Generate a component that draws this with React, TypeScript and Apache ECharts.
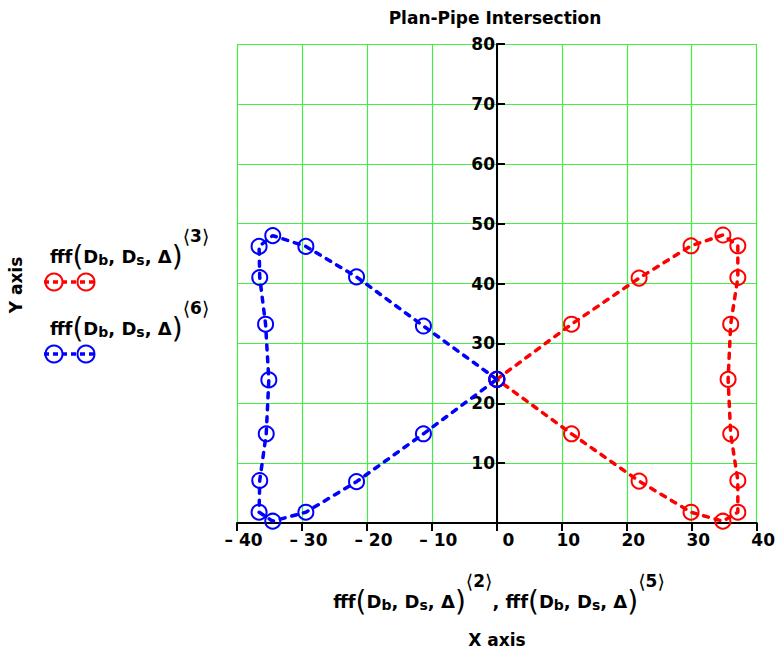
import React, { useEffect, useRef } from "react";
import * as echarts from "echarts";

const FONT = "'DejaVu Sans', sans-serif";

const titleText = "Plan-Pipe Intersection";
const xAxisTitle = "X axis";
const yAxisTitle = "Y axis";

const xTicks = [-40, -30, -20, -10, 0, 10, 20, 30, 40];

// Series fff(Db, Ds, Δ)<2> vs <3> (red)
const redX = [0, 11.5, 21.9, 29.9, 34.8, 37.1, 37.1, 36.0, 35.6, 36.0, 37.1, 37.1, 34.8, 29.9, 21.9, 11.5, 0];
const redY = [24, 33.2, 40.9, 46.3, 48.1, 46.3, 41.0, 33.2, 24.0, 14.9, 7.1, 1.8, 0.3, 1.8, 7.0, 14.9, 24];
// Series fff(Db, Ds, Δ)<5> vs <6> (blue)
const blueX = [0, -11.3, -21.6, -29.4, -34.5, -36.6, -36.5, -35.6, -35.1, -35.5, -36.5, -36.6, -34.5, -29.4, -21.6, -11.3, 0];
const blueY = [24, 32.9, 41.1, 46.2, 48.0, 46.2, 41.0, 33.2, 23.9, 14.9, 7.1, 1.8, 0.3, 1.8, 6.9, 14.9, 24];

const RED = "#ff0000";
const BLUE = "#0000ff";
const GRID_GREEN = "#44ee44";

const rich = {
  f: { fontFamily: FONT, fontWeight: "bold", fontSize: 18, color: "#000" },
  p: { fontFamily: FONT, fontWeight: "normal", fontSize: 28, color: "#000" },
  s: { fontFamily: FONT, fontWeight: "bold", fontSize: 14, color: "#000", padding: [7, 0, 0, 0] },
  a: { fontFamily: FONT, fontWeight: "normal", fontSize: 19, color: "#000", padding: [0, 0, 40, 0] },
  n: { fontFamily: FONT, fontWeight: "bold", fontSize: 17, color: "#000", padding: [0, 0, 40, 0] },
};

const fffText = (idx: string) =>
  `{f|fff}{p|(}{f|D}{s|b}{f|, D}{s|s}{f|, Δ}{p|)}{a|⟨}{n|${idx}}{a|⟩}`;

function legendItem(y: number, color: string, idx: string) {
  const ly = y + 26;
  return [
    {
      type: "text",
      x: 50,
      y,
      style: { text: fffText(idx), rich, align: "left", verticalAlign: "middle" },
    },
    {
      type: "line",
      shape: { x1: 44, y1: ly, x2: 96, y2: ly },
      style: { stroke: color, lineWidth: 3.5, lineDash: [5, 4] },
    },
    { type: "circle", shape: { cx: 54, cy: ly, r: 8.5 }, style: { fill: "none", stroke: color, lineWidth: 2 } },
    { type: "circle", shape: { cx: 86, cy: ly, r: 8.5 }, style: { fill: "none", stroke: color, lineWidth: 2 } },
  ];
}

function makeSeries(name: string, xs: number[], ys: number[], color: string) {
  return {
    name,
    type: "line",
    data: xs.map((x, i) => [x, ys[i]]),
    symbol: "circle",
    symbolSize: 15,
    showAllSymbol: true,
    itemStyle: { color: "rgba(0,0,0,0)", borderColor: color, borderWidth: 2 },
    lineStyle: { color, width: 3.5, type: [5, 7], cap: "round" },
    emphasis: { disabled: true },
  };
}

export default function App() {
  const ref = useRef<HTMLDivElement>(null);
  useEffect(() => {
    if (!ref.current) return;
    const chart = echarts.init(ref.current, null, { renderer: "svg" });
    const labelStyle = { fontFamily: FONT, fontWeight: "bold", fontSize: 17, color: "#000" };
    chart.setOption({
      animation: false,
      backgroundColor: "#fff",
      grid: { left: 237, right: 21, top: 44, bottom: 133, containLabel: false },
      xAxis: {
        type: "value",
        min: xTicks[0],
        max: xTicks[xTicks.length - 1],
        interval: 10,
        axisLine: { onZero: false, lineStyle: { color: "#000", width: 2 } },
        axisTick: { show: true, length: 8, lineStyle: { color: "#000", width: 2 } },
        axisLabel: {
          ...labelStyle,
          margin: 8,
          padding: [0, 0, 0, 13],
          formatter: (v: number) => (v < 0 ? `– ${-v}` : v === 0 ? "{z|0}" : `${v}`),
          rich: { z: { ...labelStyle, padding: [0, 0, 0, 10] } },
        },
        splitLine: { show: true, lineStyle: { color: GRID_GREEN, width: 1.2 } },
      },
      yAxis: {
        type: "value",
        min: 0,
        max: 80,
        interval: 10,
        offset: -260,
        axisLine: { onZero: false, lineStyle: { color: "#000", width: 2 } },
        axisTick: { show: true, inside: true, length: 8, lineStyle: { color: "#000", width: 2 } },
        axisLabel: { ...labelStyle, margin: 2, showMinLabel: false, padding: [6, 0, 0, 0] },
        splitLine: { show: true, lineStyle: { color: GRID_GREEN, width: 1.2 } },
      },
      series: [
        makeSeries("fff<3>", redX, redY, RED),
        makeSeries("fff<6>", blueX, blueY, BLUE),
      ],
      graphic: [
        {
          type: "text",
          x: 495,
          y: 18,
          style: { text: titleText, fontFamily: FONT, fontWeight: "bold", fontSize: 17, fill: "#000", align: "center", verticalAlign: "middle" },
        },
        {
          type: "text",
          x: 499,
          y: 601,
          style: {
            text: fffText("2") + "{f|, }" + fffText("5"),
            rich,
            align: "center",
            verticalAlign: "middle",
          },
        },
        {
          type: "text",
          x: 497,
          y: 640,
          style: { text: xAxisTitle, fontFamily: FONT, fontWeight: "bold", fontSize: 17, fill: "#000", align: "center", verticalAlign: "middle" },
        },
        {
          type: "text",
          x: 16,
          y: 285,
          rotation: Math.PI / 2,
          style: { text: yAxisTitle, fontFamily: FONT, fontWeight: "bold", fontSize: 17, fill: "#000", align: "center", verticalAlign: "middle" },
        },
        ...legendItem(256, RED, "3"),
        ...legendItem(328, BLUE, "6"),
      ],
    });
    return () => chart.dispose();
  }, []);
  return <div ref={ref} style={{ position: "absolute", left: 0, top: 0, width: 778, height: 656 }} />;
}
